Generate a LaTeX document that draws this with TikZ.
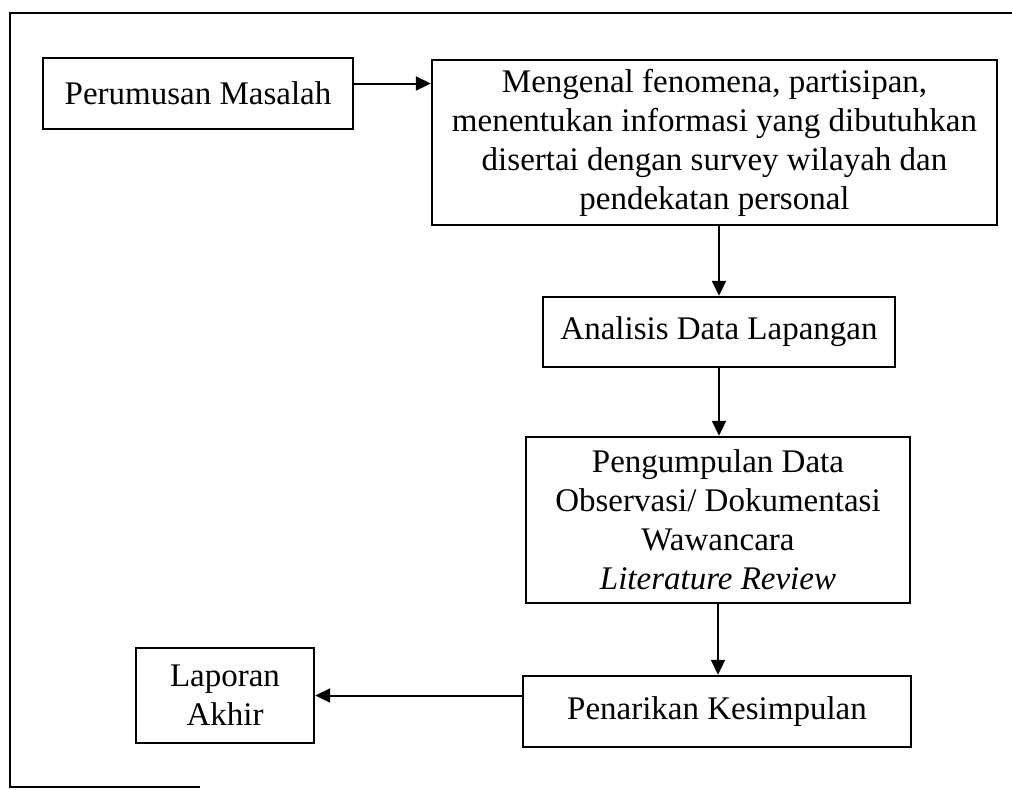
\documentclass[tikz,border=0pt]{standalone}
\usepackage{fontspec}
\setmainfont{Liberation Serif}
\usetikzlibrary{arrows.meta}

\tikzset{
  kotak/.style={draw, black, line width=1.2pt, inner sep=0pt, align=center,
    font=\fontsize{16.5}{19.5}\selectfont},
  panah/.style={black, line width=1pt, -{Triangle[length=7.5pt, width=7pt]}}
}

\begin{document}
\begin{tikzpicture}[x=0.5pt, y=-0.5pt]
\useasboundingbox (0,0) rectangle (1012,789);
% bingkai luar
\draw[black, line width=1.1pt] (200,787) -- (10,787) -- (10,13) -- (1012,13);
\node[kotak, minimum width=155pt, minimum height=35.5pt] (rumusan) at (198,93.5) {Perumusan Masalah};
\node[kotak, minimum width=282.5pt, minimum height=82.5pt] (fenomena) at (714.5,142.5) {Mengenal fenomena, partisipan,\\menentukan informasi yang dibutuhkan\\disertai dengan survey wilayah dan\\pendekatan personal};
\node[kotak, minimum width=176pt, minimum height=35pt] (analisis) at (719,332) {Analisis Data Lapangan};
\node[kotak, minimum width=192pt, minimum height=83pt] (kumpul) at (718,520) {Pengumpulan Data\\Observasi/ Dokumentasi\\Wawancara\\\textit{Literature Review}};
\node[kotak, minimum width=194pt, minimum height=35.5pt] (simpulan) at (717,711.5) {Penarikan Kesimpulan};
\node[kotak, minimum width=89pt, minimum height=47.5pt] (laporan) at (225,695.5) {Laporan\\Akhir};
% panah
\draw[panah] ([yshift=5pt]rumusan.east) -- ([yshift=5pt]rumusan.east -| fenomena.west);
\draw[panah] (analisis.north |- fenomena.south) -- (analisis.north);
\draw[panah] (analisis.south) -- (analisis.south |- kumpul.north);
\draw[panah] (kumpul.south) -- (kumpul.south |- simpulan.north);
\draw[panah] (simpulan.west |- laporan.east) -- (laporan.east);
\end{tikzpicture}
\end{document}
